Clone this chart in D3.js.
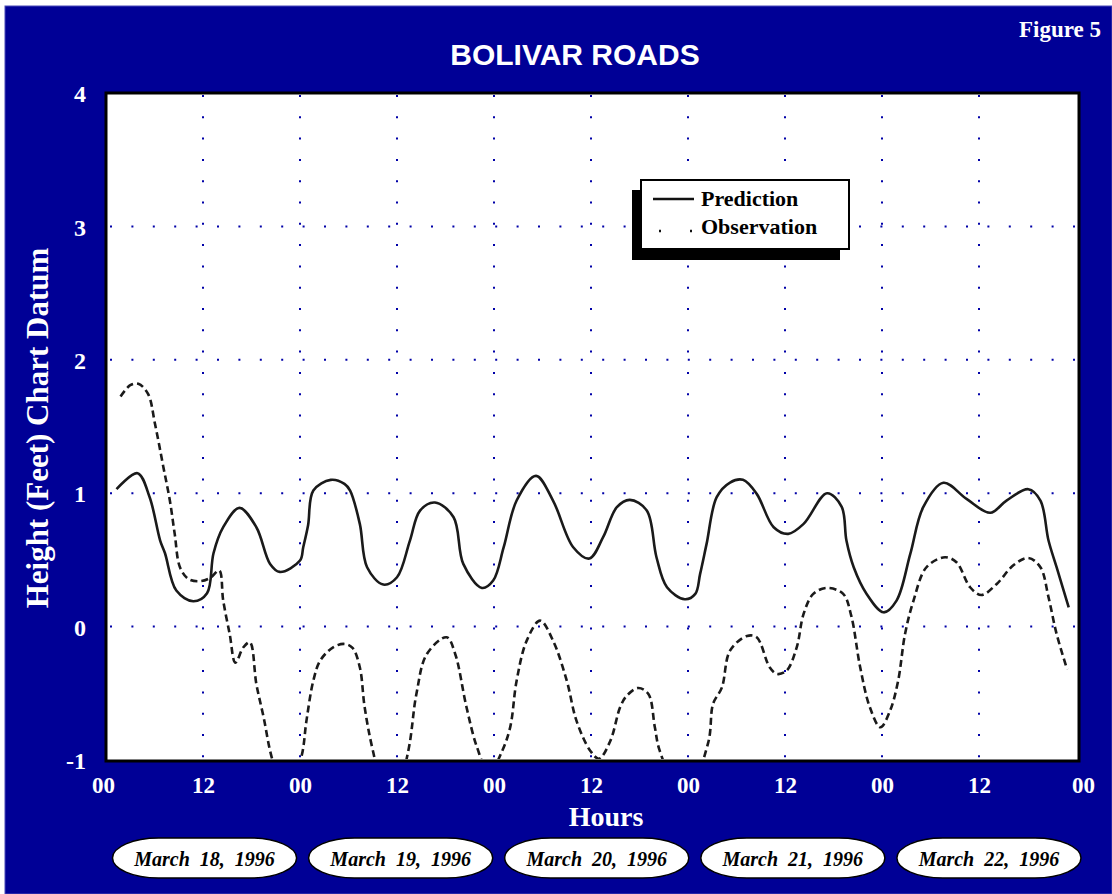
<!DOCTYPE html>
<html>
<head>
<meta charset="utf-8">
<script src="https://cdn.jsdelivr.net/npm/d3@7"></script>
<style>
body { margin: 0; background: #fff; }
</style>
</head>
<body>
<div id="chart"></div>
<script>
// tide data (hours from 00 March 18, feet above chart datum)
const predHours = [1.3, 3.9, 5.4, 6.7, 7.3, 8.7, 10.8, 12.5, 13.3, 14.5, 16.5, 18.6, 20.3, 21.5, 24.0, 24.4, 25.0, 25.65,
  27.8, 29.5, 30.2, 31.4, 32.3, 34.3, 36.0, 37.6, 38.85, 40.7, 43.0, 44.2, 46.5, 47.9, 49.2, 50.8, 53.2, 55.3, 57.8,
  59.8, 61.5, 63.2, 64.8, 66.9, 68.1, 69.4, 71.6, 72.9, 73.5, 74.3, 75.55, 77.2, 78.8, 80.5, 82.6, 84.4, 86.3, 89.2,
  91.0, 91.6, 92.5, 94.1, 96.2, 97.8, 99.5, 101.1, 103.6, 106.5, 109.4, 111.4, 114.1, 115.6, 116.6, 117.6, 119.1]
const predFeet = [1.03, 1.15, 0.97, 0.645, 0.55, 0.27, 0.19, 0.25, 0.55, 0.745, 0.89, 0.745, 0.47, 0.41, 0.495, 0.595, 0.76, 1.02,
  1.10, 1.07, 1.02, 0.77, 0.445, 0.315, 0.37, 0.645, 0.87, 0.93, 0.82, 0.47, 0.29, 0.345, 0.595, 0.945, 1.13, 0.945, 0.595,
  0.51, 0.67, 0.895, 0.95, 0.87, 0.52, 0.295, 0.205, 0.245, 0.395, 0.62, 0.97, 1.08, 1.10, 0.995, 0.745, 0.695, 0.77, 1.0,
  0.9, 0.645, 0.445, 0.245, 0.107, 0.195, 0.545, 0.895, 1.078, 0.955, 0.853, 0.945, 1.03, 0.945, 0.645, 0.445, 0.145]

const obsHours = [1.8, 3.0, 4.0, 5.2, 6.06, 7.1, 7.9, 8.5, 9.15, 10.2, 11.6, 12.9, 14.0, 14.5, 15.3, 16.0, 17.0, 17.8, 18.6,
  19.5, 20.5, 22.3, 24.2, 24.8, 25.65, 26.5, 28.1, 29.5, 30.5, 31.4, 32.0, 33.0, 35.2, 37.4, 38.4, 39.7, 42.15, 43.2,
  44.6, 45.9, 47.4, 48.95, 50.0, 50.8, 52.05, 53.7, 55.3, 57.0, 58.2, 59.9, 61.0, 62.4, 63.6, 64.4, 65.85, 67.1, 67.9,
  68.5, 71.5, 74.5, 75.1, 76.2, 77.2, 79.3, 80.5, 82.1, 83.0, 84.2, 85.45, 86.3, 87.5, 89.2, 91.2, 92.2, 93.3, 94.5,
  95.8, 97.0, 98.0, 98.85, 99.9, 101.5, 103.8, 105.25, 106.9, 108.3, 110.2, 112.25, 114.1, 115.6, 116.6, 117.6, 118.9]
const obsFeet = [1.725, 1.81, 1.82, 1.745, 1.52, 1.195, 0.945, 0.695, 0.445, 0.357, 0.34, 0.365, 0.42, 0.195, -0.055, -0.27, -0.155, -0.118, -0.43,
  -0.68, -0.98, -1.3, -0.97, -0.705, -0.405, -0.255, -0.155, -0.13, -0.16, -0.305, -0.605, -0.925, -1.4, -0.93, -0.505, -0.205, -0.08, -0.205,
  -0.605, -0.905, -1.1, -0.94, -0.755, -0.405, -0.105, 0.045, -0.105, -0.405, -0.705, -0.93, -0.99, -0.855, -0.605, -0.52, -0.46, -0.505, -0.755,
  -0.93, -1.3, -0.87, -0.58, -0.455, -0.18, -0.07, -0.08, -0.305, -0.355, -0.33, -0.155, 0.095, 0.245, 0.29, 0.245, 0.08, -0.305, -0.605,
  -0.755, -0.63, -0.405, -0.055, 0.195, 0.445, 0.52, 0.48, 0.295, 0.237, 0.32, 0.46, 0.515, 0.445, 0.22, -0.055, -0.32]

const xTicks = [0, 12, 24, 36, 48, 60, 72, 84, 96, 108, 120]
const xTickLabels = ["00", "12", "00", "12", "00", "12", "00", "12", "00", "12", "00"]
const yTicks = [-1, 0, 1, 2, 3, 4]
const gridHours = [12, 24, 36, 48, 60, 72, 84, 96, 108]
const gridFeet = [0, 1, 2, 3]
const dates = ["March  18,  1996", "March  19,  1996", "March  20,  1996", "March  21,  1996", "March  22,  1996"]

const W = 1112, H = 894
const serif = "'Liberation Serif', 'Times New Roman', serif"
const sans = "'Liberation Sans', Arial, sans-serif"

const svg = d3.select("#chart")
    .append("svg")
    .attr("width", W)
    .attr("height", H)

// blue panel
svg.append("rect")
    .attr("x", 5).attr("y", 6)
    .attr("width", W - 5).attr("height", H - 6)
    .attr("fill", "#000096")
    .attr("stroke", "#4a4ab8")
    .attr("stroke-width", 1)

const x = d3.scaleLinear().domain([0, 120]).range([106, 1076])
const y = d3.scaleLinear().domain([-1, 4]).range([760, 93])

// plot box
svg.append("rect")
    .attr("x", x(0)).attr("y", y(4))
    .attr("width", x(120) - x(0) + 3).attr("height", y(-1) - y(4) + 1)
    .attr("fill", "#fff")
    .attr("stroke", "#000")
    .attr("stroke-width", 3)

svg.append("defs").append("clipPath")
    .attr("id", "plotclip")
    .append("rect")
    .attr("x", x(0) + 1.5).attr("y", y(4) + 1.5)
    .attr("width", x(120) - x(0)).attr("height", y(-1) - y(4) - 2.5)

// dotted grid
svg.append("g").selectAll("line")
    .data(gridFeet)
    .join("line")
    .attr("x1", x(0) + 4).attr("x2", x(120))
    .attr("y1", d => y(d)).attr("y2", d => y(d))
    .attr("stroke", "#0000a8")
    .attr("stroke-width", 2)
    .attr("stroke-dasharray", "2,19.4")

svg.append("g").selectAll("line")
    .data(gridHours)
    .join("line")
    .attr("x1", d => x(d)).attr("x2", d => x(d))
    .attr("y1", y(4) + 2).attr("y2", y(-1))
    .attr("stroke", "#0000a8")
    .attr("stroke-width", 2)
    .attr("stroke-dasharray", "2,19.3")

// series
const line = d3.line()
    .x(d => x(d[0]))
    .y(d => y(d[1]))
    .curve(d3.curveCatmullRom.alpha(0.5))

const lines = svg.append("g").attr("clip-path", "url(#plotclip)")

lines.append("path")
    .datum(d3.zip(obsHours, obsFeet))
    .attr("d", line)
    .attr("fill", "none")
    .attr("stroke", "#1a1a1a")
    .attr("stroke-width", 2.6)
    .attr("stroke-dasharray", "7,4")

lines.append("path")
    .datum(d3.zip(predHours, predFeet))
    .attr("d", line)
    .attr("fill", "none")
    .attr("stroke", "#1a1a1a")
    .attr("stroke-width", 2.6)

// axes
const xAxis = svg.append("g")
    .attr("transform", `translate(0,${y(-1)})`)
    .call(d3.axisBottom(x).tickValues(xTicks).tickSize(0).tickFormat((d, i) => xTickLabels[i]))
xAxis.select(".domain").remove()
xAxis.selectAll("text")
    .attr("y", 33)
    .attr("dy", 0)
    .attr("dx", (d, i) => i === 0 ? -3 : (i === xTicks.length - 1 ? 7 : 0))
    .attr("fill", "#fff")
    .style("font", `bold 23px ${serif}`)

const yAxis = svg.append("g")
    .attr("transform", "translate(86,0)")
    .call(d3.axisLeft(y).tickValues(yTicks).tickSize(0).tickFormat(d => String(d)))
yAxis.select(".domain").remove()
yAxis.selectAll("text")
    .attr("x", 0)
    .attr("dy", "0.36em")
    .attr("fill", "#fff")
    .style("font", `bold 24px ${serif}`)

// titles
svg.append("text")
    .attr("x", 575).attr("y", 65)
    .attr("text-anchor", "middle")
    .attr("fill", "#fff")
    .style("font", `bold 30px ${sans}`)
    .text("BOLIVAR ROADS")

svg.append("text")
    .attr("x", 1101).attr("y", 37)
    .attr("text-anchor", "end")
    .attr("fill", "#fff")
    .style("font", `bold 23px ${serif}`)
    .text("Figure 5")

svg.append("text")
    .attr("x", 606).attr("y", 826)
    .attr("text-anchor", "middle")
    .attr("fill", "#fff")
    .style("font", `bold 28px ${serif}`)
    .text("Hours")

svg.append("text")
    .attr("transform", "translate(48,428) rotate(-90)")
    .attr("text-anchor", "middle")
    .attr("fill", "#fff")
    .style("font", `bold 31px ${serif}`)
    .text("Height (Feet) Chart Datum")

// legend
const lg = svg.append("g")
lg.append("rect")
    .attr("x", 632).attr("y", 190)
    .attr("width", 208).attr("height", 70)
    .attr("fill", "#000")
lg.append("rect")
    .attr("x", 641).attr("y", 180)
    .attr("width", 208).attr("height", 69)
    .attr("fill", "#fff")
    .attr("stroke", "#000")
    .attr("stroke-width", 2)
lg.append("line")
    .attr("x1", 653).attr("x2", 694)
    .attr("y1", 199).attr("y2", 199)
    .attr("stroke", "#111").attr("stroke-width", 2.5)
lg.append("line")
    .attr("x1", 659).attr("x2", 692)
    .attr("y1", 231).attr("y2", 231)
    .attr("stroke", "#111").attr("stroke-width", 2.5)
    .attr("stroke-dasharray", "2,29")
lg.append("text")
    .attr("x", 701).attr("y", 206)
    .attr("fill", "#000")
    .style("font", `bold 22px ${serif}`)
    .text("Prediction")
lg.append("text")
    .attr("x", 701).attr("y", 234)
    .attr("fill", "#000")
    .style("font", `bold 22px ${serif}`)
    .text("Observation")

// date ovals
const band = d3.scaleBand().domain(dates).range([112.5, 1081]).paddingInner(0.0612).paddingOuter(0)
const ov = svg.append("g").selectAll("g")
    .data(dates)
    .join("g")
    .attr("transform", d => `translate(${band(d)},838)`)
ov.append("rect")
    .attr("width", band.bandwidth())
    .attr("height", 40)
    .attr("rx", 46).attr("ry", 20)
    .attr("fill", "#fff")
    .attr("stroke", "#000")
    .attr("stroke-width", 1.5)
ov.append("text")
    .attr("x", band.bandwidth() / 2)
    .attr("y", 28)
    .attr("text-anchor", "middle")
    .attr("fill", "#000")
    .style("white-space", "pre")
    .style("font", `italic bold 20px ${serif}`)
    .text(d => d)
</script>
</body>
</html>
